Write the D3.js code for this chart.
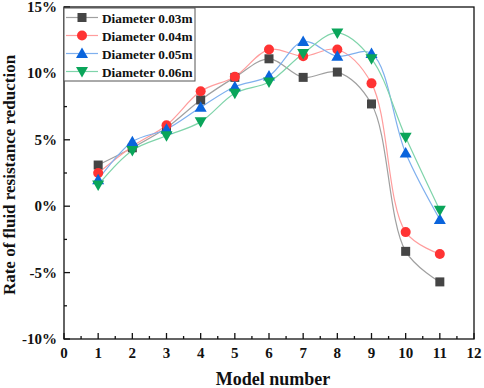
<!DOCTYPE html>
<html>
<head>
<meta charset="utf-8">
<script src="https://cdn.jsdelivr.net/npm/d3@7"></script>
<style>
  body { margin: 0; background: #fff; }
  svg text { font-family: "Liberation Serif", "Times New Roman", serif; font-weight: bold; fill: #111; }
</style>
</head>
<body>
<div id="chart"></div>
<script>
const models = [1, 2, 3, 4, 5, 6, 7, 8, 9, 10, 11];
const d003 = [3.1, 4.4, 5.9, 8.0, 9.7, 11.1, 9.7, 10.1, 7.7, -3.4, -5.7];
const d004 = [2.5, 4.5, 6.1, 8.65, 9.75, 11.8, 11.3, 11.8, 9.25, -1.95, -3.6];
const d005 = [2.0, 4.85, 5.8, 7.45, 9.0, 9.8, 12.4, 11.3, 11.5, 4.0, -1.0];
const d006 = [1.6, 4.2, 5.3, 6.35, 8.5, 9.35, 11.5, 13.05, 11.1, 5.2, -0.3];
const seriesNames = ["Diameter 0.03m", "Diameter 0.04m", "Diameter 0.05m", "Diameter 0.06m"];
const xTicks = [0, 1, 2, 3, 4, 5, 6, 7, 8, 9, 10, 11, 12];
const yTicks = [-10, -5, 0, 5, 10, 15];

const series = [
  { name: seriesNames[0], values: d003, marker: "square", fill: "#454545", line: "#a0a0a0" },
  { name: seriesNames[1], values: d004, marker: "circle", fill: "#ff3333", line: "#ff9d9d" },
  { name: seriesNames[2], values: d005, marker: "up", fill: "#0a64dc", line: "#7fb0ee" },
  { name: seriesNames[3], values: d006, marker: "down", fill: "#0aa55a", line: "#7fd4aa" }
];

const width = 484, height = 388;
const margin = { top: 7, right: 10, bottom: 49, left: 64 };
const svg = d3.select("#chart").append("svg").attr("width", width).attr("height", height);

const x = d3.scaleLinear().domain([0, 12]).range([margin.left, width - margin.right]);
const y = d3.scaleLinear().domain([-10, 15]).range([height - margin.bottom, margin.top]);

// box
svg.append("rect")
  .attr("x", x(0)).attr("y", y(15))
  .attr("width", x(12) - x(0)).attr("height", y(-10) - y(15))
  .attr("fill", "none").attr("stroke", "#111").attr("stroke-width", 1.3);

// x axis ticks (inward)
const xMinor = d3.range(0.5, 12, 1);
svg.selectAll(".xmaj").data(xTicks).enter().append("line")
  .attr("x1", d => x(d)).attr("x2", d => x(d))
  .attr("y1", y(-10)).attr("y2", y(-10) - 6)
  .attr("stroke", "#111").attr("stroke-width", 1.3);
svg.selectAll(".xmin").data(xMinor).enter().append("line")
  .attr("x1", d => x(d)).attr("x2", d => x(d))
  .attr("y1", y(-10)).attr("y2", y(-10) - 3)
  .attr("stroke", "#111").attr("stroke-width", 1.3);
svg.selectAll(".xlab").data(xTicks).enter().append("text")
  .attr("x", d => x(d)).attr("y", y(-10) + 19)
  .attr("text-anchor", "middle").attr("font-size", 15)
  .text(d => d);

// y axis ticks
const yMinor = d3.range(-7.5, 15, 5);
svg.selectAll(".ymaj").data(yTicks).enter().append("line")
  .attr("x1", x(0)).attr("x2", x(0) + 6)
  .attr("y1", d => y(d)).attr("y2", d => y(d))
  .attr("stroke", "#111").attr("stroke-width", 1.3);
svg.selectAll(".ymin").data(yMinor).enter().append("line")
  .attr("x1", x(0)).attr("x2", x(0) + 3)
  .attr("y1", d => y(d)).attr("y2", d => y(d))
  .attr("stroke", "#111").attr("stroke-width", 1.3);
svg.selectAll(".ylab").data(yTicks).enter().append("text")
  .attr("x", x(0) - 7).attr("y", d => y(d) + 5)
  .attr("text-anchor", "end").attr("font-size", 15)
  .text(d => d + "%");

// axis titles
svg.append("text")
  .attr("x", 273).attr("y", 385)
  .attr("text-anchor", "middle").attr("font-size", 18)
  .text("Model number");
svg.append("text")
  .attr("transform", `translate(15,175) rotate(-90)`)
  .attr("text-anchor", "middle").attr("font-size", 17)
  .text("Rate of fluid resistance reduction");

// curves
const line = d3.line()
  .x((d, i) => x(models[i]))
  .y(d => y(d))
  .curve(d3.curveCatmullRom.alpha(0.5));

svg.selectAll(".curve").data(series).enter().append("path")
  .attr("d", d => line(d.values))
  .attr("fill", "none")
  .attr("stroke", d => d.line)
  .attr("stroke-width", 1.2);

function drawMarker(g, type, cx, cy, fill) {
  if (type === "square") {
    g.append("rect").attr("x", cx - 4.5).attr("y", cy - 4.5).attr("width", 9).attr("height", 9).attr("fill", fill);
  } else if (type === "circle") {
    g.append("circle").attr("cx", cx).attr("cy", cy).attr("r", 5).attr("fill", fill);
  } else if (type === "up") {
    g.append("path").attr("d", `M${cx},${cy - 6}L${cx + 6},${cy + 4.5}L${cx - 6},${cy + 4.5}Z`).attr("fill", fill);
  } else {
    g.append("path").attr("d", `M${cx},${cy + 6}L${cx + 6},${cy - 4.5}L${cx - 6},${cy - 4.5}Z`).attr("fill", fill);
  }
}

series.forEach(s => {
  const g = svg.append("g");
  s.values.forEach((v, i) => drawMarker(g, s.marker, x(models[i]), y(v), s.fill));
});

// legend
const legend = svg.append("g");
legend.append("rect")
  .attr("x", x(0)).attr("y", 8).attr("width", 131).attr("height", 73)
  .attr("fill", "#fff").attr("stroke", "#555").attr("stroke-width", 1);
series.forEach((s, i) => {
  const ly = 17.5 + i * 18;
  legend.append("line")
    .attr("x1", 66).attr("x2", 98).attr("y1", ly).attr("y2", ly)
    .attr("stroke", s.line).attr("stroke-width", 1.2);
  drawMarker(legend, s.marker, 82, ly, s.fill);
  legend.append("text")
    .attr("x", 102).attr("y", ly + 5).attr("font-size", 13.3)
    .text(s.name);
});
</script>
</body>
</html>
